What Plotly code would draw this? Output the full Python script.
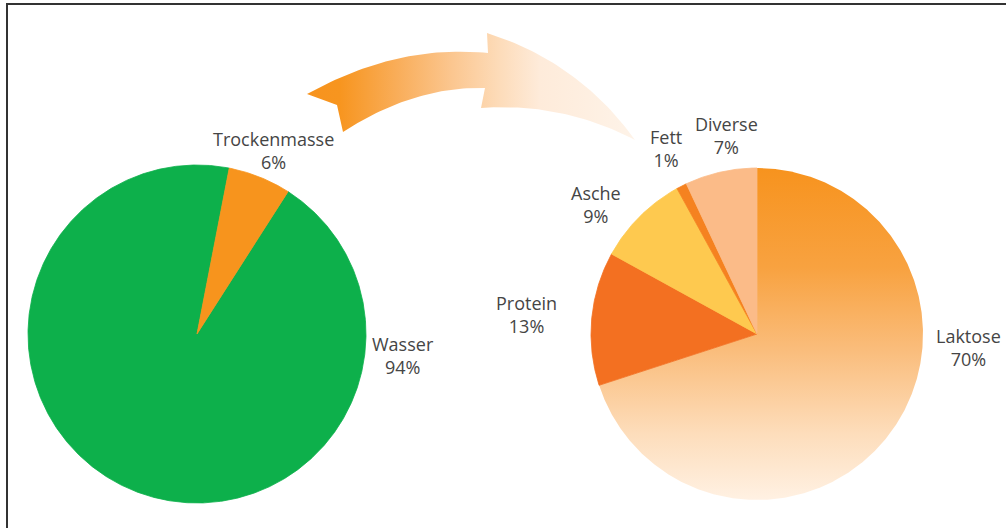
import numpy as np
import plotly.graph_objects as go

# ---- data ----
left_labels = ["Trockenmasse", "Wasser"]
left_values = [6, 94]
right_labels = ["Laktose", "Protein", "Asche", "Fett", "Diverse"]
right_values = [70, 13, 9, 1, 7]

W, H = 1006, 528
FONT = dict(family="Open Sans, Noto Sans, sans-serif", size=18, color="#454545")

fig = go.Figure()


def qbez(p0, c, p2, n=40):
    t = np.linspace(0, 1, n)[:, None]
    p0, c, p2 = map(np.array, (p0, c, p2))
    return (1 - t) ** 2 * p0 + 2 * (1 - t) * t * c + t ** 2 * p2


# ---- decorative curved arrow (gradient) ----
A, B, C = (307, 94), (337, 105), (343, 132)
D, E, F = (485, 88), (481, 108), (635, 140)
G, Hh = (487, 33), (488, 53)
seg1 = qbez(A, (397, 44), Hh)          # upper-left edge
seg2 = np.array([Hh, G])
seg3 = qbez(G, (579, 62), F)           # upper head edge
seg4 = qbez(F, (562, 102), E)          # lower head edge
seg5 = np.array([E, D])
seg6 = qbez(D, (414, 86), C)           # lower-left edge
seg7 = np.array([C, B, A])
arrow = np.vstack([seg1, seg2, seg3, seg4, seg5, seg6, seg7])
fig.add_trace(go.Scatter(
    x=arrow[:, 0], y=arrow[:, 1], mode="lines", fill="toself",
    line=dict(width=0), hoverinfo="skip", showlegend=False,
    fillgradient=dict(type="horizontal", start=307, stop=635,
                      colorscale=[[0, "#F7931E"], [0.1, "#F7951F"],
                                  [0.28, "#F9AE5B"], [0.44, "#FBC68F"],
                                  [0.59, "#FDDCBA"], [0.71, "#FEEBDA"],
                                  [1, "#FEF3E8"]]),
))


def wedge(cx, cy, r, a0, a1):
    n = max(int(abs(a1 - a0) / 0.4), 2)
    t = np.radians(np.linspace(a0, a1, n + 1))
    xs = np.concatenate([[cx], cx + r * np.sin(t), [cx]])
    ys = np.concatenate([[cy], cy - r * np.cos(t), [cy]])
    return xs, ys


def add_pie(labels, values, cx, cy, r, rotation, styles, order):
    total = float(sum(values))
    spans = {}
    start = rotation
    for lab, val in zip(labels, values):
        span = 360.0 * val / total
        spans[lab] = (start, start + span)
        start += span
    for lab in order:
        a0, a1 = spans[lab]
        xs, ys = wedge(cx, cy, r, a0, a1)
        st = styles[lab]
        kw = dict(x=xs, y=ys, mode="lines", fill="toself", name=lab,
                  hoverinfo="name", showlegend=False)
        if isinstance(st, dict):
            kw["fillgradient"] = st
            kw["line"] = dict(width=0)
        else:
            kw["fillcolor"] = st
            kw["line"] = dict(width=0.8, color=st)
        fig.add_trace(go.Scatter(**kw))


# left pie
add_pie(left_labels, left_values, 197, 334, 169, 11,
        {"Trockenmasse": "#F7941D", "Wasser": "#0DB04B"},
        ["Wasser", "Trockenmasse"])

# right pie
lak_grad = dict(type="vertical", start=168, stop=500,
                colorscale=[[0, "#F7931E"], [0.3, "#F8A240"],
                            [0.55, "#FABD7C"], [0.8, "#FDDDBB"],
                            [1, "#FFF1E3"]])
add_pie(right_labels, right_values, 757, 334, 166, 0,
        {"Laktose": lak_grad, "Protein": "#F37021", "Asche": "#FEC94F",
         "Fett": "#F58220", "Diverse": "#FBBB88"},
        ["Laktose", "Protein", "Asche", "Fett", "Diverse"])

# ---- labels ----
label_pos = {
    "Trockenmasse": (273, 150.5), "Wasser": (403, 355.5),
    "Laktose": (968, 347.5), "Protein": (526, 314.5),
    "Asche": (596, 204), "Fett": (666, 148.5), "Diverse": (726, 135.5),
}
for labs, vals in ((left_labels, left_values), (right_labels, right_values)):
    for lab, val in zip(labs, vals):
        x, y = label_pos[lab]
        fig.add_annotation(x=x, y=y, xref="x", yref="y",
                           text=f"{lab}<br>{val}%", showarrow=False,
                           font=FONT, align="center",
                           xanchor="center", yanchor="middle")

# frame (open at right and bottom like the reference crop)
fig.add_shape(type="rect", x0=7, y0=4, x1=1030, y1=560, xref="x", yref="y",
              line=dict(color="#333333", width=2), fillcolor="rgba(0,0,0,0)")

fig.update_layout(
    width=W, height=H, margin=dict(l=0, r=0, t=0, b=0),
    paper_bgcolor="white", plot_bgcolor="white", showlegend=False,
    xaxis=dict(range=[0, W], visible=False, fixedrange=True),
    yaxis=dict(range=[H, 0], visible=False, fixedrange=True),
)

fig.write_html("out.html",
               config={"displayModeBar": False, "staticPlot": True},
               post_script="document.body.style.margin='0';"
                           "document.body.style.overflow='hidden';")
